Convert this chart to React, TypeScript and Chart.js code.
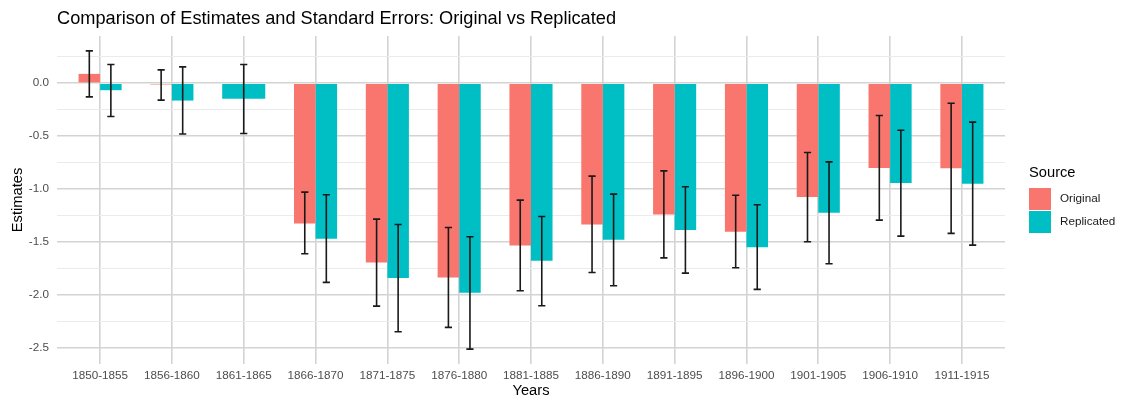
import React, { useEffect, useRef } from "react";
import { Chart, registerables } from "chart.js";

Chart.register(...registerables);

const categories = [
  "1850-1855", "1856-1860", "1861-1865", "1866-1870", "1871-1875", "1876-1880", "1881-1885",
  "1886-1890", "1891-1895", "1896-1900", "1901-1905", "1906-1910", "1911-1915",
];

const originalEst = [0.088, -0.012, null, -1.325, -1.693, -1.835, -1.533, -1.334, -1.24, -1.404, -1.076, -0.8, -0.803];
const originalLow = [-0.129, -0.16, null, -1.612, -2.106, -2.307, -1.961, -1.788, -1.65, -1.744, -1.498, -1.294, -1.419];
const originalHigh = [0.305, 0.126, null, -1.029, -1.284, -1.363, -1.105, -0.878, -0.828, -1.058, -0.655, -0.305, -0.189];

const replicatedEst = [-0.066, -0.164, -0.148, -1.47, -1.841, -1.98, -1.678, -1.48, -1.388, -1.549, -1.224, -0.944, -0.951];
const replicatedLow = [-0.315, -0.48, -0.475, -1.882, -2.348, -2.512, -2.103, -1.914, -1.794, -1.948, -1.706, -1.445, -1.53];
const replicatedHigh = [0.177, 0.154, 0.177, -1.054, -1.335, -1.451, -1.259, -1.048, -0.979, -1.149, -0.743, -0.444, -0.368];

const yTicks = [-2.5, -2.25, -2.0, -1.75, -1.5, -1.25, -1.0, -0.75, -0.5, -0.25, 0, 0.25];

const seriesNames = ["Original", "Replicated"];
const seriesColors = ["#F8766D", "#00BFC4"];

const FONT = "'Liberation Sans', Arial, sans-serif";

const errorBars = [
  { low: originalLow, high: originalHigh },
  { low: replicatedLow, high: replicatedHigh },
];

const isMajor = (n: number) => Math.abs(n * 2 - Math.round(n * 2)) < 1e-6;

const errorBarPlugin = {
  id: "errorBars",
  afterDatasetsDraw(chart: any) {
    const ctx = chart.ctx;
    const yScale = chart.scales.y;
    const xScale = chart.scales.x;
    const capHalf = xScale.getPixelForValue(0.05) - xScale.getPixelForValue(0);
    ctx.save();
    ctx.strokeStyle = "#1a1a1a";
    ctx.lineWidth = 1.6;
    errorBars.forEach((eb, d) => {
      const meta = chart.getDatasetMeta(d);
      meta.data.forEach((bar: any, i: number) => {
        if (eb.low[i] == null || eb.high[i] == null) return;
        const x = bar.x;
        const yl = yScale.getPixelForValue(eb.low[i]);
        const yh = yScale.getPixelForValue(eb.high[i]);
        ctx.beginPath();
        ctx.moveTo(x, yl);
        ctx.lineTo(x, yh);
        ctx.moveTo(x - capHalf, yl);
        ctx.lineTo(x + capHalf, yl);
        ctx.moveTo(x - capHalf, yh);
        ctx.lineTo(x + capHalf, yh);
        ctx.stroke();
      });
    });
    ctx.restore();
  },
};

const titleLegendPlugin = {
  id: "titleLegend",
  afterDraw(chart: any) {
    const ctx = chart.ctx;
    const area = chart.chartArea;
    ctx.save();
    ctx.fillStyle = "#000000";
    ctx.textBaseline = "middle";
    ctx.textAlign = "left";
    ctx.font = `18.2px ${FONT}`;
    ctx.fillText("Comparison of Estimates and Standard Errors: Original vs Replicated", area.left, 19);

    const lx = area.right + 24;
    ctx.font = `14.7px ${FONT}`;
    ctx.fillText("Source", lx, 173);
    ctx.font = `11.7px ${FONT}`;
    seriesNames.forEach((name, k) => {
      const top = 188 + k * 23;
      ctx.fillStyle = seriesColors[k];
      ctx.fillRect(lx, top, 22, 22);
      ctx.fillStyle = "#1a1a1a";
      ctx.fillText(name, lx + 31, top + 11);
    });
    ctx.restore();
  },
};

export default function App() {
  const canvasRef = useRef<HTMLCanvasElement | null>(null);

  useEffect(() => {
    document.body.style.margin = "0";
    const canvas = canvasRef.current;
    if (!canvas) return;

    const makeData = (arr: (number | null)[]) => arr.map((v, i) => ({ x: i, y: v }));

    const chart = new Chart(canvas, {
      type: "bar",
      data: {
        datasets: [
          {
            label: seriesNames[0],
            data: makeData(originalEst) as any,
            backgroundColor: seriesColors[0],
            borderWidth: 0,
            skipNull: true,
            categoryPercentage: 0.6,
            barPercentage: 1.0,
          } as any,
          {
            label: seriesNames[1],
            data: makeData(replicatedEst) as any,
            backgroundColor: seriesColors[1],
            borderWidth: 0,
            skipNull: true,
            categoryPercentage: 0.6,
            barPercentage: 1.0,
          } as any,
        ],
      },
      options: {
        animation: false,
        responsive: true,
        maintainAspectRatio: false,
        layout: { padding: { top: 36, right: 116, left: 0, bottom: 0 } },
        plugins: {
          legend: { display: false },
          title: { display: false },
          tooltip: { enabled: false },
        },
        scales: {
          x: {
            type: "linear",
            min: -0.6,
            max: 12.6,
            offset: false,
            afterBuildTicks(scale: any) {
              scale.ticks = categories.map((_, i) => ({ value: i }));
            },
            afterFit(scale: any) {
              scale.height = 36;
            },
            ticks: {
              autoSkip: false,
              maxRotation: 0,
              minRotation: 0,
              padding: 5,
              color: "#4d4d4d",
              font: { family: FONT, size: 11.7 },
              callback: (v: any) => categories[Math.round(Number(v))] ?? "",
            },
            grid: {
              offset: false,
              drawTicks: false,
              color: "#d3d3d3",
              lineWidth: 1.6,
            },
            border: { display: false },
            title: {
              display: true,
              text: "Years",
              color: "#000000",
              font: { family: FONT, size: 14.7 },
              padding: { top: 0, bottom: 0 },
            },
          },
          y: {
            type: "linear",
            min: -2.653,
            max: 0.446,
            afterBuildTicks(scale: any) {
              scale.ticks = yTicks.map((v) => ({ value: v }));
            },
            afterFit(scale: any) {
              scale.width = 57;
            },
            ticks: {
              autoSkip: false,
              padding: 8,
              color: "#4d4d4d",
              font: { family: FONT, size: 11.7 },
              callback: (v: any) => {
                const n = Number(v);
                return isMajor(n) ? n.toFixed(1) : "";
              },
            },
            grid: {
              drawTicks: false,
              color: (c: any) => (isMajor(c.tick ? c.tick.value : 0) ? "#d3d3d3" : "#ebebeb"),
              lineWidth: (c: any) => (isMajor(c.tick ? c.tick.value : 0) ? 1.6 : 1),
            },
            border: { display: false },
            title: {
              display: true,
              text: "Estimates",
              color: "#000000",
              font: { family: FONT, size: 14.7 },
              padding: { top: 9, bottom: 0 },
            },
          },
        },
      },
      plugins: [errorBarPlugin, titleLegendPlugin],
    });

    return () => chart.destroy();
  }, []);

  return (
    <div style={{ position: "relative", width: "1121px", height: "400px" }}>
      <canvas ref={canvasRef} />
    </div>
  );
}
